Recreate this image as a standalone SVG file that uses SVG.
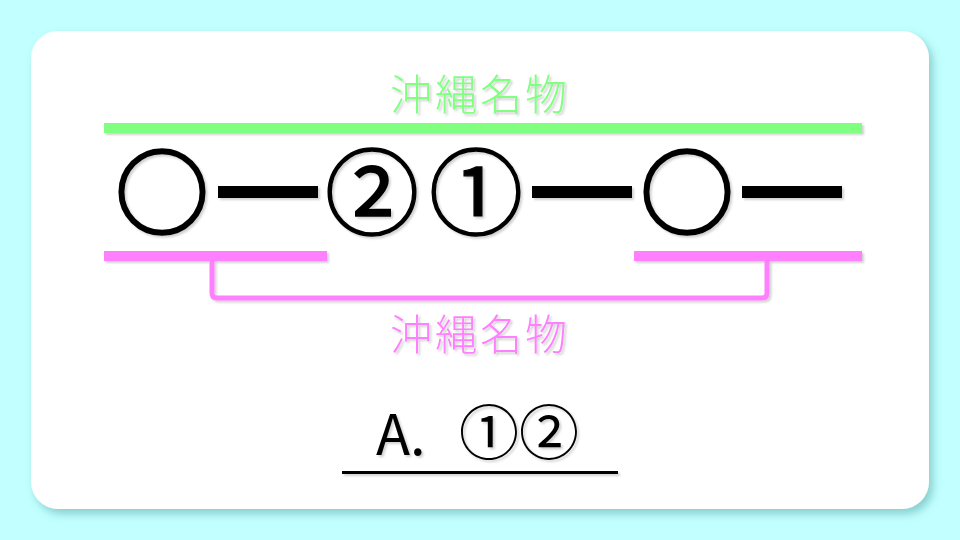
<svg xmlns="http://www.w3.org/2000/svg" width="960" height="540" viewBox="0 0 960 540">
<defs>
<filter id="cardShadow" x="-5%" y="-5%" width="112%" height="115%">
<feDropShadow dx="4" dy="5" stdDeviation="4" flood-color="#5aa8a8" flood-opacity="0.55"/>
</filter>
<filter id="sh" x="-10%" y="-30%" width="120%" height="160%">
<feDropShadow dx="2" dy="2" stdDeviation="1.2" flood-color="#000" flood-opacity="0.18"/>
</filter>
<style>
.jp{font-family:"Noto Sans CJK JP","Noto Sans",sans-serif;}
.lbl{font-size:42px;font-weight:300;text-anchor:middle;letter-spacing:3px;}
.seq{font-size:94px;font-weight:400;text-anchor:middle;fill:#000;}
.ring{stroke:#000;stroke-width:2.5px;}
.num{stroke:#000;stroke-width:1.4px;}
.dash{font-size:100px;font-weight:700;text-anchor:middle;fill:#000;}
.ans{font-size:56px;font-weight:400;fill:#000;}
.pink{stroke:#ff80ff;fill:none;}
</style>
</defs>
<rect width="960" height="540" fill="#c2ffff"/>
<rect x="31" y="31" width="898" height="478" rx="27" fill="#fff" filter="url(#cardShadow)"/>
<g id="top-label" filter="url(#sh)">
<text class="jp lbl" x="480" y="110" fill="#80ff80">沖縄名物</text>
<rect x="104" y="123" width="758" height="10" fill="#80ff80"/>
</g>
<g id="sequence" filter="url(#sh)">
<text class="jp seq" y="228"><tspan class="ring" x="162">○</tspan><tspan class="num" x="372">②</tspan><tspan class="num" x="476">①</tspan><tspan class="ring" x="687">○</tspan></text>
<text class="jp dash" y="230"><tspan x="268">━</tspan><tspan x="582">━</tspan><tspan x="792">━</tspan></text>
</g>
<g id="connectors" filter="url(#sh)">
<rect x="104" y="251" width="223" height="10" fill="#ff80ff"/>
<rect x="634" y="251" width="228" height="10" fill="#ff80ff"/>
<path class="pink" d="M212 261 V293 Q212 298 217 298 H762 Q767 298 767 293 V261" stroke-width="5"/>
</g>
<g id="bottom-label" filter="url(#sh)">
<text class="jp lbl" x="480" y="350" fill="#ff80ff">沖縄名物</text>
</g>
<g id="answer" filter="url(#sh)">
<text class="jp ans" y="455"><tspan x="376">A.</tspan><tspan x="459" font-size="60">①②</tspan></text>
<rect x="342" y="471" width="276" height="3" fill="#000"/>
</g>
</svg>
